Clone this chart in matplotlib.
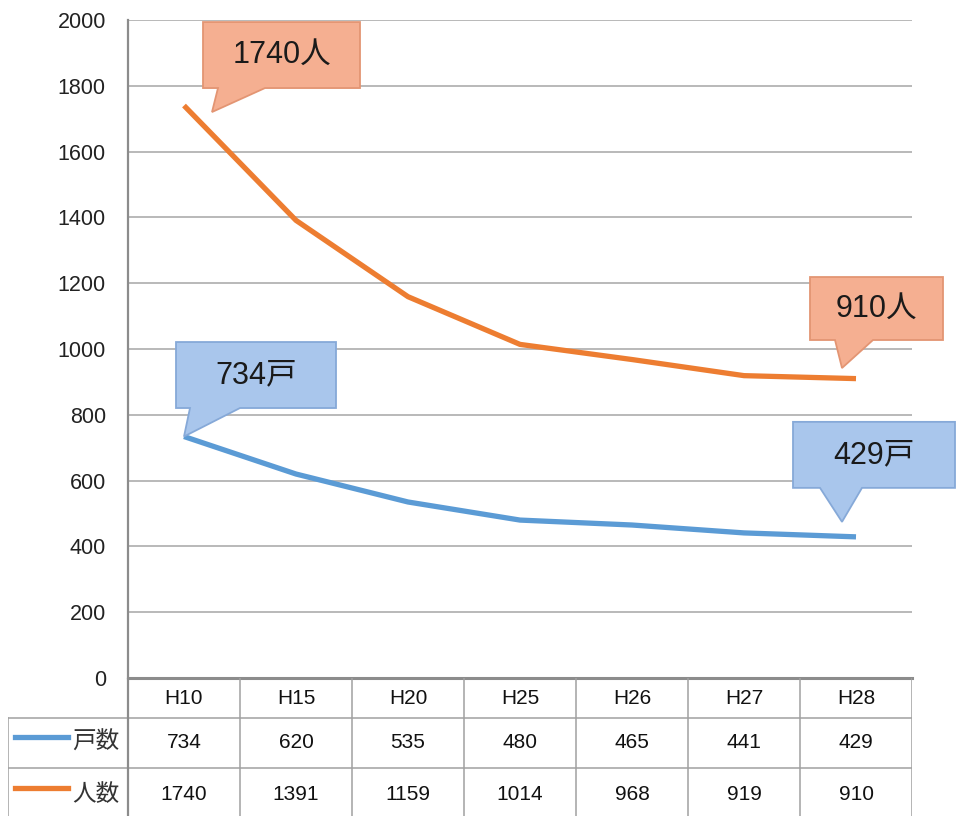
import matplotlib
matplotlib.use("Agg")
import matplotlib.pyplot as plt
from matplotlib.patches import Polygon
from matplotlib.transforms import IdentityTransform

plt.rcParams['font.family'] = ['Liberation Sans', 'Noto Sans CJK JP', 'DejaVu Sans']

categories = ["H10", "H15", "H20", "H25", "H26", "H27", "H28"]
households = [734, 620, 535, 480, 465, 441, 429]
people = [1740, 1391, 1159, 1014, 968, 919, 910]
series_names = ["戸数", "人数"]
yticks = [0, 200, 400, 600, 800, 1000, 1200, 1400, 1600, 1800, 2000]

BLUE = "#5B9BD5"
ORANGE = "#ED7D31"
GRID = "#A6A6A6"

W, H = 959, 816
fig = plt.figure(figsize=(W / 100, H / 100), dpi=100)
fig.patch.set_facecolor("white")

# main plot axes (pixel layout)
L, R, T, B = 128, 912, 20, 678
ax = fig.add_axes([L / W, (H - B) / H, (R - L) / W, (B - T) / H])
x = list(range(len(categories)))
ax.set_xlim(-0.5, len(categories) - 0.5)
ax.set_ylim(0, 2000)
ax.set_yticks(yticks)
ax.set_yticklabels([str(v) for v in yticks], fontsize=15.5, color="#222222")
ax.tick_params(axis="y", length=0, pad=16)
ax.set_xticks([])
ax.grid(axis="y", color=GRID, linewidth=1.1)
ax.set_axisbelow(True)
for s in ["top", "right"]:
    ax.spines[s].set_visible(False)
ax.spines["left"].set_color("#8C8C8C")
ax.spines["left"].set_linewidth(1.6)
ax.spines["bottom"].set_color("#8C8C8C")
ax.spines["bottom"].set_linewidth(2.2)

ax.plot(x, households, color=BLUE, linewidth=3.8, solid_capstyle="butt", zorder=3)
ax.plot(x, people, color=ORANGE, linewidth=3.8, solid_capstyle="butt", zorder=3)

# table axes
tab = fig.add_axes([8 / W, 0, (R - 8) / W, (H - B) / H])
left_ext = (L - 8) / ((R - L) / len(categories))
xl = -0.5 - left_ext
tab.set_xlim(xl, len(categories) - 0.5)
tab.set_ylim(H - B, 0)
tab.axis("off")
lc = "#A0A0A0"
for yy in [40, 90]:
    tab.plot([xl, len(categories) - 0.5], [yy, yy], color=lc, linewidth=1.1)
tab.plot([xl, xl], [40, 138], color=lc, linewidth=1.1)
for i in range(len(categories) + 1):
    xx = i - 0.5
    tab.plot([xx, xx], [0, 138], color="#8C8C8C" if i == 0 else lc,
             linewidth=1.6 if i == 0 else 1.1)
for i, c in enumerate(categories):
    tab.text(i, 20, c, ha="center", va="center", fontsize=15, color="#111111")
    tab.text(i, 65, str(households[i]), ha="center", va="center", fontsize=15, color="#111111")
    tab.text(i, 117, str(people[i]), ha="center", va="center", fontsize=15, color="#111111")
# legend keys
px = (R - 8) / (len(categories) - 0.5 - xl)  # pixels per unit
def ux(p):
    return xl + (p - 8) / px
tab.plot([ux(15), ux(68)], [59, 59], color=BLUE, linewidth=3.8)
tab.plot([ux(15), ux(68)], [110, 110], color=ORANGE, linewidth=3.8)
tab.text(ux(96), 65, series_names[0], ha="center", va="center", fontsize=17, color="#333333")
tab.text(ux(96), 117, series_names[1], ha="center", va="center", fontsize=17, color="#333333")

# callouts (offsets in pixels relative to the data point, image-down positive)
fig.canvas.draw()

def callout(xi, val, box, tip, base, text, fc, ec):
    px0, py0 = ax.transData.transform((xi, val))
    def P(dx, dy):
        return (px0 + dx, py0 - dy)
    bl, br, bt, bb = box
    verts = [P(bl, bt), P(br, bt), P(br, bb), P(base[1], bb), P(tip[0], tip[1]),
             P(base[0], bb), P(bl, bb)]
    poly = Polygon(verts, closed=True, transform=IdentityTransform(),
                   facecolor=fc, edgecolor=ec, linewidth=1.3, zorder=5)
    fig.patches.append(poly)
    cx, cy = P((bl + br) / 2, (bt + bb) / 2)
    fig.text(cx / W, cy / H, text, ha="center", va="center", fontsize=22,
             color="#1a1a1a", zorder=6)

callout(0, people[0], (19, 176, -83.5, -17.5), (28, 6.5), (34, 81),
        f"{people[0]}人", "#F5AF91", "#E39573")
callout(0, households[0], (-8, 152, -94.5, -28.5), (0, 0), (6, 56),
        f"{households[0]}戸", "#A9C6EC", "#86A9D8")
callout(6, people[6], (-46, 87, -101.6, -38.6), (-14, -10.6), (-21, 17),
        f"{people[6]}人", "#F5AF91", "#E39573")
callout(6, households[6], (-63, 99, -115, -49), (-14, -15), (-36, 6),
        f"{households[6]}戸", "#A9C6EC", "#86A9D8")

fig.savefig("out.png", dpi=100, facecolor="white")
